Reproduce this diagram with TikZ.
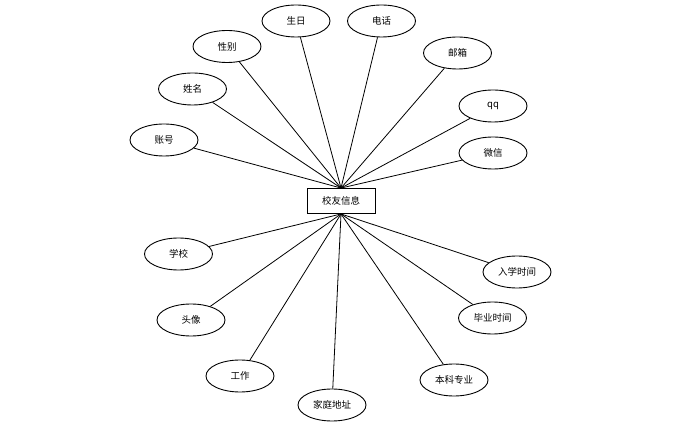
\documentclass[tikz,border=0pt]{standalone}
\usepackage{fontspec}
\usepackage{tikz}
\usetikzlibrary{shapes.geometric, positioning}
\newfontfamily\cjk{Noto Sans CJK SC}
\tikzset{
	entity/.style={rectangle, draw=black, line width=0.9pt, minimum width=68pt, minimum height=25pt, inner sep=1pt},
	attr/.style  ={ellipse, draw=black, line width=0.9pt, minimum width=68pt, minimum height=32pt, inner sep=1pt},
	link/.style  ={line width=0.8pt},
}
\begin{document}
\begin{tikzpicture}[x=1pt, y=-1pt, font=\cjk\fontsize{9.5}{11}\selectfont]
	\useasboundingbox (0,0) rectangle (699,435);
	% entity
	\node[entity] (alumni) at (341,201) {校友信息};
	% upper attributes
	\node[attr] (account) at (164,140) {账号};
	\node[attr] (name)    at (192.5,89) {姓名};
	\node[attr] (gender)  at (227,46.5) {性别};
	\node[attr] (birth)   at (296,21) {生日};
	\node[attr] (phone)   at (381.5,21) {电话};
	\node[attr] (mail)    at (457.5,53) {邮箱};
	\node[attr] (qq)      at (493,106) {qq};
	\node[attr] (wechat)  at (493,153) {微信};
	% lower attributes
	\node[attr] (school)  at (178.5,254) {学校};
	\node[attr] (avatar)  at (191,320) {头像};
	\node[attr] (job)     at (240,376) {工作};
	\node[attr] (address) at (332,405) {家庭地址};
	\node[attr] (major)   at (454,380) {本科专业};
	\node[attr] (grad)    at (492.5,318) {毕业时间};
	\node[attr] (enroll)  at (517,272) {入学时间};
	% connectors
	\foreach \a in {account, name, gender, birth, phone, mail, qq, wechat}
		\draw[link] (alumni.north) -- (\a);
	\foreach \a in {school, avatar, job, address, major, grad, enroll}
		\draw[link] (alumni.south) -- (\a);
\end{tikzpicture}
\end{document}
